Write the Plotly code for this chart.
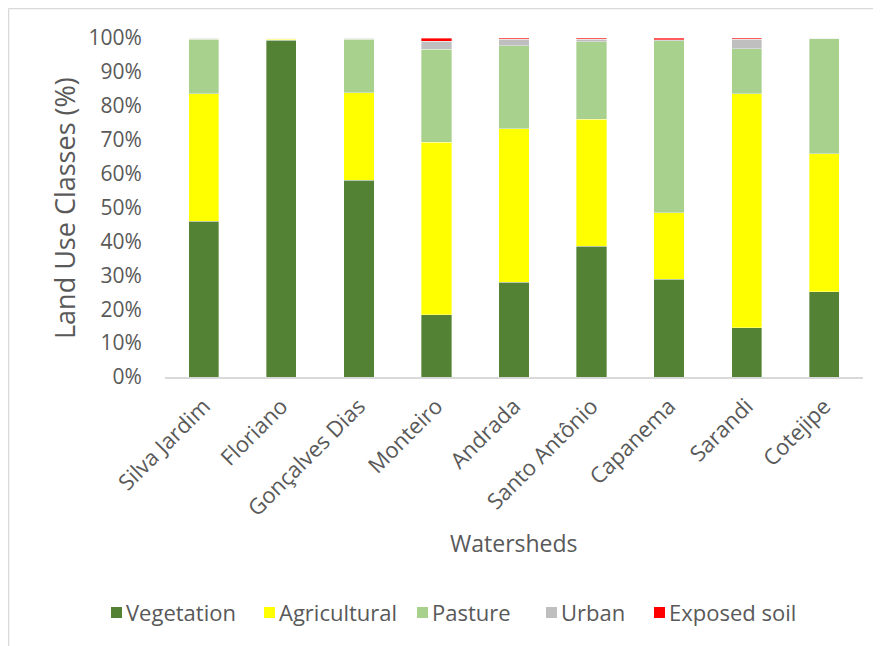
import plotly.graph_objects as go

watersheds = ["Silva Jardim", "Floriano", "Gonçalves Dias", "Monteiro", "Andrada",
              "Santo Antônio", "Capanema", "Sarandi", "Cotejipe"]
vegetation = [46.0, 99.3, 58.1, 18.3, 28.0, 38.6, 28.9, 14.5, 25.1]
agricultural = [37.5, 0.3, 25.7, 51.0, 45.2, 37.5, 19.5, 69.0, 40.7]
pasture = [16.2, 0.2, 15.8, 27.4, 24.5, 22.8, 50.8, 13.3, 34.0]
urban = [0.2, 0.1, 0.3, 2.4, 1.9, 0.8, 0.3, 2.9, 0.1]
exposed_soil = [0.1, 0.1, 0.1, 0.9, 0.4, 0.3, 0.5, 0.3, 0.1]

series_names = ["Vegetation", "Agricultural", "Pasture", "Urban", "Exposed soil"]
series_values = [vegetation, agricultural, pasture, urban, exposed_soil]
series_colors = ["#548235", "#FFFF00", "#A9D18E", "#BFBFBF", "#FF0000"]

FONT = "Open Sans"
GREY = "#595959"

fig = go.Figure()
for name, vals, col in zip(series_names, series_values, series_colors):
    fig.add_trace(go.Bar(
        name=name, x=watersheds, y=[v / 100 for v in vals],
        marker=dict(color=col, line=dict(color="rgba(255,255,255,0.6)", width=0.6)),
        showlegend=False,
    ))

# page body adds an 8px offset; figure coords = screen coords - 8
OFF = 8
W, H = 881 - OFF, 646 - OFF
L = 165 - OFF
T = 38 - OFF
B = H - (377 - OFF)
R = W - (863 - OFF)
pw, ph = W - L - R, H - T - B

def px2x(p):  # screen px -> paper x
    return (p - OFF - L) / pw

def py2y(p):  # screen px -> paper y
    return (H - B - (p - OFF)) / ph

annotations = [
    dict(text="Watersheds", xref="paper", yref="paper", x=px2x(514), y=py2y(543),
         xanchor="center", yanchor="middle", showarrow=False,
         font=dict(size=23, color=GREY)),
    dict(text="Land Use Classes (%)", xref="paper", yref="paper", x=px2x(64), y=py2y(208),
         xanchor="center", yanchor="middle", showarrow=False, textangle=-90,
         font=dict(size=27, color=GREY)),
]
shapes = [
    # chart area outline (only top and left edges are visible in the crop)
    dict(type="line", xref="paper", yref="paper",
         x0=px2x(8.5), x1=px2x(890), y0=py2y(8.5), y1=py2y(8.5),
         line=dict(color="#D9D9D9", width=1.5), layer="below"),
    dict(type="line", xref="paper", yref="paper",
         x0=px2x(8.5), x1=px2x(8.5), y0=py2y(8.5), y1=py2y(660),
         line=dict(color="#D9D9D9", width=1.5), layer="below"),
]

# legend (Excel-style: small square + label), laid out left to right
legend_sq_x = [111, 264, 417, 546, 654]
for name, col, sx in zip(series_names, series_colors, legend_sq_x):
    shapes.append(dict(type="rect", xref="paper", yref="paper",
                       x0=px2x(sx), x1=px2x(sx + 11), y0=py2y(618), y1=py2y(607),
                       line=dict(width=0), fillcolor=col))
    annotations.append(dict(text=name, xref="paper", yref="paper", x=px2x(sx + 13), y=py2y(612),
                            xanchor="left", yanchor="middle", showarrow=False,
                            font=dict(size=22, color=GREY)))

fig.update_layout(
    width=W, height=H,
    barmode="stack", bargap=0.61,
    margin=dict(l=L, r=R, t=T, b=B, autoexpand=False),
    paper_bgcolor="white", plot_bgcolor="white",
    font=dict(family=FONT, color=GREY, size=21),
    showlegend=False,
    xaxis=dict(
        tickangle=-45, showline=True, linecolor="#D9D9D9", linewidth=1.5,
        ticks="outside", ticklen=6, tickcolor="rgba(0,0,0,0)",
        tickfont=dict(size=22, color=GREY),
        showgrid=False, automargin=False,
    ),
    yaxis=dict(
        range=[0, 1], tickformat=".0%", dtick=0.1, showgrid=False,
        zeroline=False, showline=False,
        ticks="outside", ticklen=18, tickcolor="rgba(0,0,0,0)",
        tickfont=dict(size=21, color=GREY), automargin=False,
    ),
    annotations=annotations,
    shapes=shapes,
)

fig.write_html("out.html")
